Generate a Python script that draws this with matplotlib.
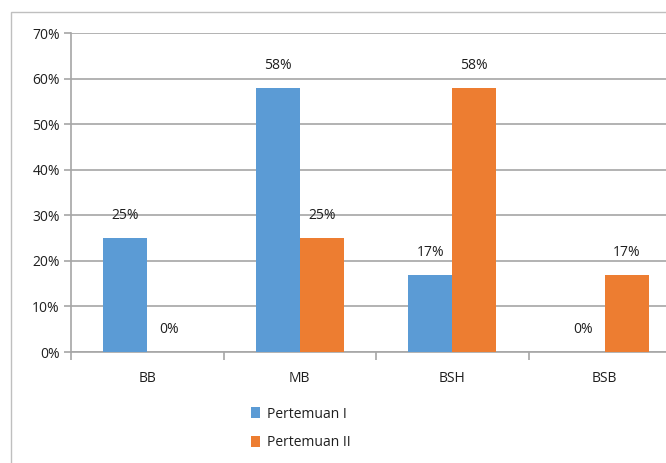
import matplotlib.pyplot as plt
import numpy as np
from matplotlib.patches import Rectangle
from matplotlib.ticker import FixedLocator, NullFormatter

categories = ["BB", "MB", "BSH", "BSB"]
pertemuan_1 = [25, 58, 17, 0]
pertemuan_2 = [0, 25, 58, 17]
series_names = ["Pertemuan I", "Pertemuan II"]
y_ticks = [0, 10, 20, 30, 40, 50, 60, 70]

blue = "#5B9BD5"
orange = "#ED7D31"
grid_col = "#A6A6A6"
txt = "#1F1F1F"

plt.rcParams["font.family"] = ["Open Sans", "DejaVu Sans"]

W, H = 666, 463
fig = plt.figure(figsize=(W / 100, H / 100), dpi=100)

# outer chart frame (cut off on the right/bottom as in the screenshot)
fig.patches.append(Rectangle((11 / W, -0.1), 2, 1 - 12 / H + 0.1, transform=fig.transFigure,
                             fill=False, edgecolor="#BFBFBF", linewidth=1.0))

left, right, top, bottom = 71, 681, 33, 352
ax = fig.add_axes([left / W, 1 - bottom / H, (right - left) / W, (bottom - top) / H])

x = np.arange(len(categories))
bw = 0.29
b1 = ax.bar(x - bw / 2, pertemuan_1, bw, color=blue, label=series_names[0], zorder=3)
b2 = ax.bar(x + bw / 2, pertemuan_2, bw, color=orange, label=series_names[1], zorder=3)

for bars, vals in ((b1, pertemuan_1), (b2, pertemuan_2)):
    for b, v in zip(bars, vals):
        ax.annotate(f"{v}%", (b.get_x() + b.get_width() / 2, v), xytext=(0, 15),
                    textcoords="offset pixels", ha="center", va="bottom",
                    fontsize=10, color=txt)

ax.set_xlim(-0.5, len(categories) - 0.5)
ax.set_ylim(0, 70)
ax.set_yticks(y_ticks)
ax.set_yticklabels([f"{t}%" for t in y_ticks], fontsize=10, color=txt)
ax.yaxis.grid(True, color=grid_col, linewidth=1.2, zorder=0)
ax.tick_params(axis="y", length=5, color=grid_col, width=1.2, pad=3)

ax.xaxis.set_major_locator(FixedLocator(np.arange(-0.5, len(categories), 1.0)))
ax.xaxis.set_major_formatter(NullFormatter())
ax.xaxis.set_minor_locator(FixedLocator(x))
ax.set_xticklabels(categories, minor=True, fontsize=10, color=txt)
ax.tick_params(axis="x", which="major", length=6, color=grid_col, width=1.2)
ax.tick_params(axis="x", which="minor", length=0, pad=14)

for s in ("top", "right"):
    ax.spines[s].set_visible(False)
for s in ("left", "bottom"):
    ax.spines[s].set_color(grid_col)
    ax.spines[s].set_linewidth(1.2)

fig.legend(handles=[b1, b2], labels=series_names, loc="upper left",
           bbox_to_anchor=(238 / W, 1 - 394 / H), frameon=False, fontsize=10,
           handlelength=0.7, handleheight=0.9, handletextpad=0.5, labelspacing=1.0,
           labelcolor=txt)

fig.savefig("out.png", dpi=100)
